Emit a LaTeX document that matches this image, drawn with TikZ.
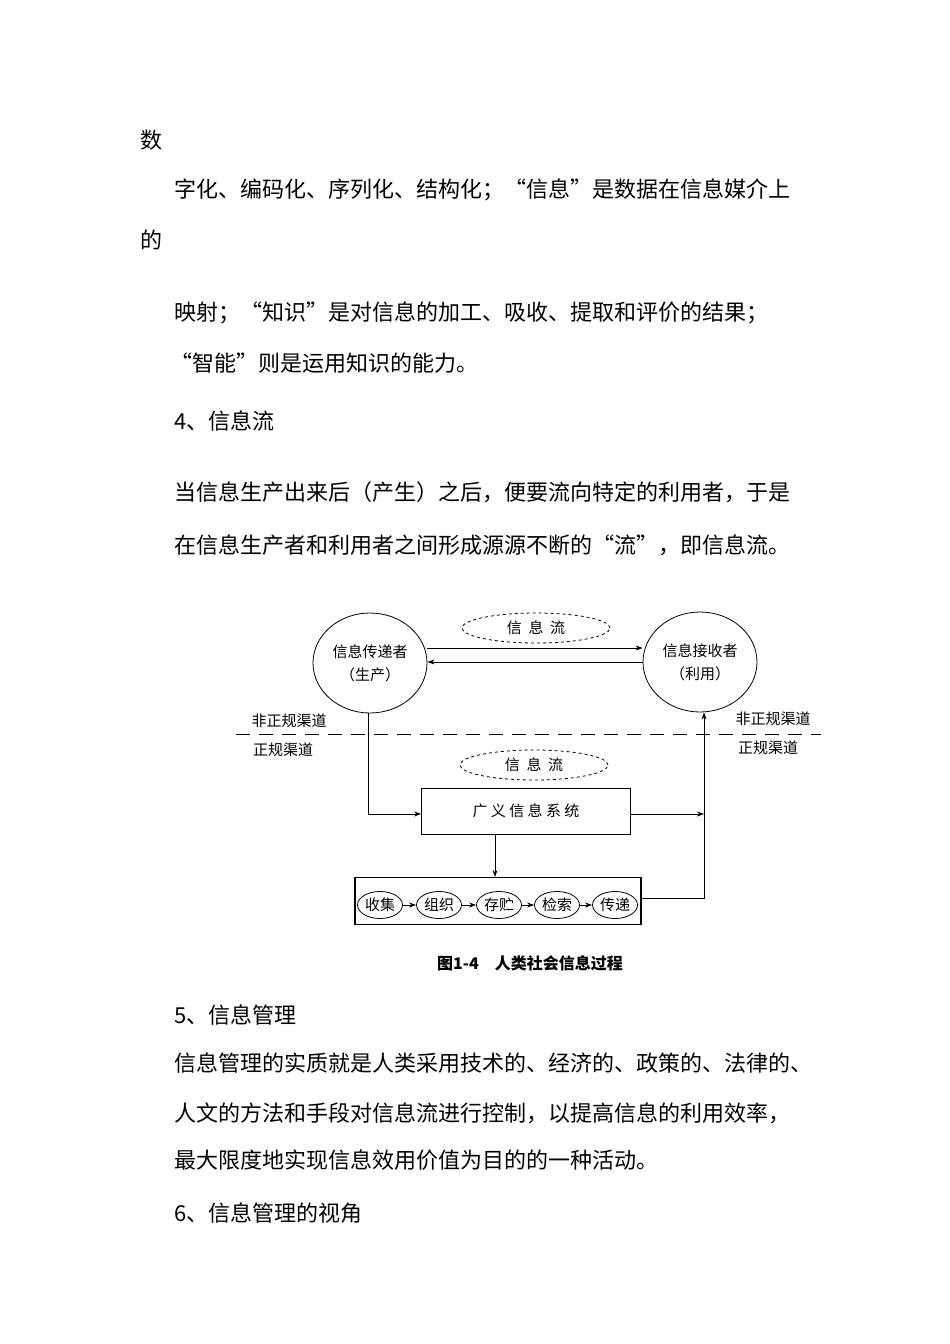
\documentclass[tikz,border=0pt]{standalone}
\usepackage{fontspec}
\setmainfont{Noto Sans CJK SC}
\usetikzlibrary{arrows.meta,shapes.geometric}
\begin{document}
\begin{tikzpicture}[x=1pt,y=-1pt,
  body/.style={anchor=west,inner sep=0pt,font=\fontsize{22}{24}\selectfont},
  dia/.style={font=\fontsize{15}{17}\selectfont},
  circ/.style={draw,thick,ellipse,minimum width=114pt,minimum height=100pt,inner sep=0pt,align=center,dia},
  flow/.style={draw,thick,dashed,ellipse,minimum width=148pt,minimum height=30pt,dia},
  sm/.style={draw,thick,ellipse,minimum width=45pt,minimum height=27pt,inner sep=0pt,dia},
  arr/.style={thick,-{Stealth[length=7pt,width=5pt]}},
  lab/.style={dia,inner sep=0pt}]
\useasboundingbox (0,0) rectangle (950,1344);
\fill[white] (0,0) rectangle (950,1344);
\node[body] (t1) at (140,140) {数};
\node[body] (t2) at (174,190) {字化、编码化、序列化、结构化；“信息”是数据在信息媒介上};
\node[body] (t3) at (140,240) {的};
\node[body] (t4) at (174,313) {映射；“知识”是对信息的加工、吸收、提取和评价的结果；};
\node[body] (t5) at (170,363) {“智能”则是运用知识的能力。};
\node[body] (t6) at (174,421) {4、信息流};
\node[body] (t7) at (174,492) {当信息生产出来后（产生）之后，便要流向特定的利用者，于是};
\node[body] (t8) at (174,545) {在信息生产者和利用者之间形成源源不断的“流”，即信息流。};
\node[body] (t9) at (174,1015) {5、信息管理};
\node[body] (t10) at (174,1063) {信息管理的实质就是人类采用技术的、经济的、政策的、法律的、};
\node[body] (t11) at (174,1113) {人文的方法和手段对信息流进行控制，以提高信息的利用效率，};
\node[body] (t12) at (174,1160) {最大限度地实现信息效用价值为目的的一种活动。};
\node[body] (t13) at (174,1213) {6、信息管理的视角};
% diagram
\node[circ] (L) at (370,663) {信息传递者\\[6pt]（生产）};
\node[circ] (R) at (700,662) {信息接收者\\[6pt]（利用）};
\node[flow] (f1) at (536,628) {信\ \ 息\ \ 流};
\draw[arr] (L.east|-0,648) -- (R.west|-0,648);
\draw[arr] (R.west|-0,662) -- (L.east|-0,662);
\coordinate (dl) at (236,734);
\coordinate (dr) at (821,734);
\draw[thick,dash pattern=on 14pt off 9pt] (dl) -- (dr);
\node[lab] (a1) at (289,721) {非正规渠道};
\node[lab] (a2) at (283,750) {正规渠道};
\node[lab] (a3) at (773,719) {非正规渠道};
\node[lab] (a4) at (768,748) {正规渠道};
\node[flow] (f2) at (534,765) {信\ \ 息\ \ 流};
\node[draw,thick,minimum width=209pt,minimum height=46pt,dia] (B) at (526,811) {广\ 义\ 信\ 息\ 系\ 统};
\node[draw,very thick,minimum width=286pt,minimum height=47pt] (C) at (498,901) {};
\node[sm] (s1) at (380,905) {收集};
\node[sm] (s2) at (439,905) {组织};
\node[sm] (s3) at (499,905) {存贮};
\node[sm] (s4) at (557,905) {检索};
\node[sm] (s5) at (615,905) {传递};
\foreach \a/\b in {s1/s2,s2/s3,s3/s4,s4/s5}\draw[arr] (\a) -- (\b);
\coordinate (k1) at (368,814);
\draw[arr] (L.south-|368,0) -- (k1) -- (B.west|-k1);
\coordinate (k2) at (704,814);
\draw[arr] (B.east|-k2) -- (k2);
\coordinate (k3) at (704,898);
\draw[arr] (C.east|-k3) -- (k3) -- (R.south-|k3);
\draw[arr] (B.south-|495,0) -- (C.north-|495,0);
\node[font=\bfseries\fontsize{16}{18}\selectfont] (cap) at (530,963) {图1-4\quad 人类社会信息过程};
\end{tikzpicture}
\end{document}
